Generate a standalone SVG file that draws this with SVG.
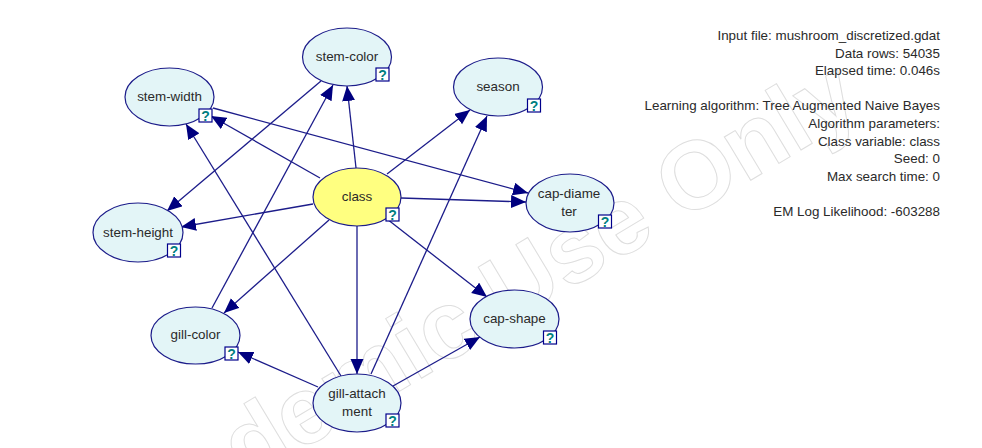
<svg xmlns="http://www.w3.org/2000/svg" width="982" height="448" viewBox="0 0 982 448">
<style>
.e{stroke:#1c1c8a;stroke-width:1.2}
.n{fill:#e3f5f7}
.c{fill:#ffff80}
.t{font:13.4px "Liberation Sans",Arial,sans-serif;fill:#2a2a2a;text-anchor:middle}
.i{font:13.4px "Liberation Sans",Arial,sans-serif;fill:#2a2a2a;text-anchor:end}
.b{fill:#fff;stroke:#00008b;stroke-width:1.2}
.q{font:bold 14px "Liberation Sans",Arial,sans-serif;fill:#008080;text-anchor:middle}
.w{font:bold 96px "Liberation Sans",Arial,sans-serif;fill:none;stroke:#dedede;stroke-width:1}
#connectors line{stroke:#1c1c8a;stroke-width:1.3;marker-end:url(#a)}
</style>
<defs>
<marker id="a" markerUnits="userSpaceOnUse" markerWidth="16" markerHeight="14" refX="15" refY="6.500" orient="auto"><path d="M0 0L15 6.500L0 13Z" fill="#00007f"/></marker>
</defs>
<rect width="982" height="448" fill="#fff"/>
<text class="w" transform="translate(95.600 574) rotate(-31)">Academic Use Only</text>
<g id="connectors">
<line x1="356" y1="168" x2="347" y2="86"/>
<line x1="320" y1="178" x2="211" y2="116"/>
<line x1="387" y1="174" x2="470" y2="110"/>
<line x1="401" y1="198" x2="526" y2="202"/>
<line x1="313" y1="204" x2="181" y2="227"/>
<line x1="329" y1="220" x2="224" y2="313"/>
<line x1="357" y1="226" x2="357" y2="374"/>
<line x1="387" y1="219" x2="487" y2="297"/>
<line x1="213" y1="108" x2="528" y2="193"/>
<line x1="321" y1="81" x2="167" y2="211"/>
<line x1="212" y1="308" x2="333" y2="85"/>
<line x1="341" y1="376" x2="186" y2="124"/>
<line x1="318" y1="387" x2="238" y2="352"/>
<line x1="371" y1="374" x2="487" y2="116"/>
<line x1="393" y1="386" x2="480" y2="337"/>
</g>
<g id="stem-color"><ellipse class="e n" cx="347" cy="57" rx="44.500" ry="29"/><text class="t" x="347" y="60.500">stem-color</text><rect class="b" x="376" y="68" width="13" height="13"/><text class="q" x="382.500" y="79.500">?</text></g>
<g id="stem-width"><ellipse class="e n" cx="169.500" cy="97" rx="44.500" ry="29"/><text class="t" x="169.500" y="100.500">stem-width</text><rect class="b" x="199" y="109" width="13" height="13"/><text class="q" x="205.500" y="120.500">?</text></g>
<g id="season"><ellipse class="e n" cx="498" cy="87" rx="44.500" ry="29"/><text class="t" x="498" y="90.500">season</text><rect class="b" x="527.500" y="99" width="13" height="13"/><text class="q" x="534" y="110.500">?</text></g>
<g id="class"><ellipse class="e c" cx="357" cy="197" rx="44" ry="29"/><text class="t" x="357" y="200.500">class</text><rect class="b" x="386" y="208" width="13" height="13"/><text class="q" x="392.500" y="219.500">?</text></g>
<g id="stem-height"><ellipse class="e n" cx="138" cy="232.500" rx="45" ry="29.500"/><text class="t" x="138" y="236.500">stem-height</text><rect class="b" x="167.500" y="244" width="13" height="13"/><text class="q" x="174" y="255.500">?</text></g>
<g id="cap-diameter"><ellipse class="e n" cx="570" cy="203" rx="44" ry="29"/><text class="t" x="569" y="198">cap-diame</text><text class="t" x="569" y="216">ter</text><rect class="b" x="598.500" y="215" width="13" height="13"/><text class="q" x="605" y="226.500">?</text></g>
<g id="gill-color"><ellipse class="e n" cx="195.500" cy="335.500" rx="44.500" ry="28.500"/><text class="t" x="195.500" y="339">gill-color</text><rect class="b" x="225" y="347" width="13" height="13"/><text class="q" x="231.500" y="358.500">?</text></g>
<g id="cap-shape"><ellipse class="e n" cx="514.500" cy="319" rx="44.500" ry="29"/><text class="t" x="514.500" y="322.500">cap-shape</text><rect class="b" x="543.500" y="331" width="13" height="13"/><text class="q" x="550" y="342.500">?</text></g>
<g id="gill-attachment"><ellipse class="e n" cx="357" cy="403" rx="44" ry="29"/><text class="t" x="357" y="398">gill-attach</text><text class="t" x="357" y="415.500">ment</text><rect class="b" x="386" y="414" width="13" height="13"/><text class="q" x="392.500" y="425.500">?</text></g>
<g id="info">
<text class="i" x="940" y="39.500">Input file: mushroom_discretized.gdat</text>
<text class="i" x="940" y="57.500">Data rows: 54035</text>
<text class="i" x="940" y="75">Elapsed time: 0.046s</text>
<text class="i" x="940" y="110">Learning algorithm: Tree Augmented Naive Bayes</text>
<text class="i" x="940" y="127.500">Algorithm parameters:</text>
<text class="i" x="940" y="145.500">Class variable: class</text>
<text class="i" x="940" y="163">Seed: 0</text>
<text class="i" x="940" y="180.500">Max search time: 0</text>
<text class="i" x="940" y="215.500">EM Log Likelihood: -603288</text>
</g>
</svg>
